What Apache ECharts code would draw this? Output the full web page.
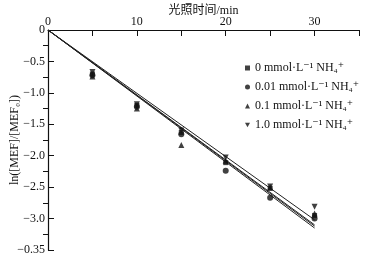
<!DOCTYPE html>
<html>
<head>
<meta charset="utf-8">
<script src="https://cdn.jsdelivr.net/npm/echarts@6/dist/echarts.min.js"></script>
<style>
  html, body { margin: 0; padding: 0; background: #fff; }
  #chart { width: 374px; height: 262px; }
</style>
</head>
<body>
<div id="chart"></div>
<script>
// 光照时间 (min)
var times = [5, 10, 15, 20, 25, 30];
// ln([MEF]/[MEF0]) for each NH4+ concentration
var s0 = [-0.70, -1.20, -1.63, -2.11, -2.52, -2.95];
var s001 = [-0.72, -1.22, -1.66, -2.24, -2.67, -3.00];
var s01 = [-0.74, -1.25, -1.83, -2.08, -2.50, -2.92];
var s10 = [-0.67, -1.18, -1.60, -2.03, -2.49, -2.81];
// fitted lines: value at t = 30
var fitEnd = [-3.12, -3.15, -3.10, -3.02];
var names = ['0 mmol·L⁻¹ NH₄⁺', '0.01 mmol·L⁻¹ NH₄⁺', '0.1 mmol·L⁻¹ NH₄⁺', '1.0 mmol·L⁻¹ NH₄⁺'];
var yTicks = {'0': '0', '-3.5': '−0.35'};

var font = 'Liberation Serif, DejaVu Serif, Noto Sans CJK SC, serif';
var invTri = 'path://M0,0 L10,0 L5,9 Z';
var symbols = ['rect', 'circle', 'triangle', invTri];
var sets = [s0, s001, s01, s10];

var chart = echarts.init(document.getElementById('chart'));

var series = [];
sets.forEach(function (s, i) {
    series.push({
        name: names[i],
        type: 'scatter',
        symbol: symbols[i],
        symbolSize: i == 0 ? 5 : 6,
        itemStyle: { color: '#111' },
        data: times.map(function (t, j) { return [t, s[j]]; }),
        z: 3
    });
    series.push({
        type: 'line',
        symbol: 'none',
        silent: true,
        lineStyle: { color: '#222', width: 1 },
        data: [[0, 0], [30, fitEnd[i]]],
        z: 2
    });
});

var option = {
    animation: false,
    grid: { left: 48, right: 15, top: 30, bottom: 12, outerBoundsMode: 'none', containLabel: false },
    legend: {
        orient: 'vertical',
        left: 240,
        top: 56,
        itemGap: 5,
        itemWidth: 5,
        itemHeight: 5,
        data: names.map(function (n, i) { return { name: n, icon: symbols[i] }; }),
        textStyle: { fontFamily: font, fontSize: 12, color: '#111', lineHeight: 14 }
    },
    xAxis: {
        type: 'value',
        position: 'top',
        min: 0,
        max: 35,
        interval: 5,
        name: '光照时间/min',
        nameLocation: 'middle',
        nameGap: 13,
        nameMoveOverlap: false,
        nameTextStyle: { fontFamily: font, fontSize: 12, color: '#111' },
        axisLine: { show: true, onZero: false, lineStyle: { color: '#111', width: 1.2 } },
        axisTick: { show: true, inside: true, length: 6, lineStyle: { color: '#111' } },
        axisLabel: {
            fontFamily: font, fontSize: 12, color: '#111', margin: 2,
            formatter: function (v) { return (v % 10 === 0 && v < 35) ? String(v) : ''; }
        },
        splitLine: { show: false }
    },
    yAxis: {
        type: 'value',
        min: -3.5,
        max: 0,
        interval: 0.5,
        name: 'ln([MEF]/[MEF₀])',
        nameLocation: 'middle',
        nameGap: 27,
        nameMoveOverlap: false,
        nameTextStyle: { fontFamily: font, fontSize: 12, color: '#111' },
        axisLine: { show: true, onZero: false, lineStyle: { color: '#111', width: 1.2 } },
        axisTick: { show: true, inside: true, length: 6, lineStyle: { color: '#111' } },
        minorTick: { show: true, splitNumber: 2, length: -5, lineStyle: { color: '#111' } },
        axisLabel: {
            fontFamily: font, fontSize: 12, color: '#111', margin: 3,
            formatter: function (v) {
                var k = String(v);
                if (yTicks[k] !== undefined) return yTicks[k];
                return '−' + Math.abs(v).toFixed(1);
            }
        },
        splitLine: { show: false }
    },
    series: series
};

chart.setOption(option);
</script>
</body>
</html>
